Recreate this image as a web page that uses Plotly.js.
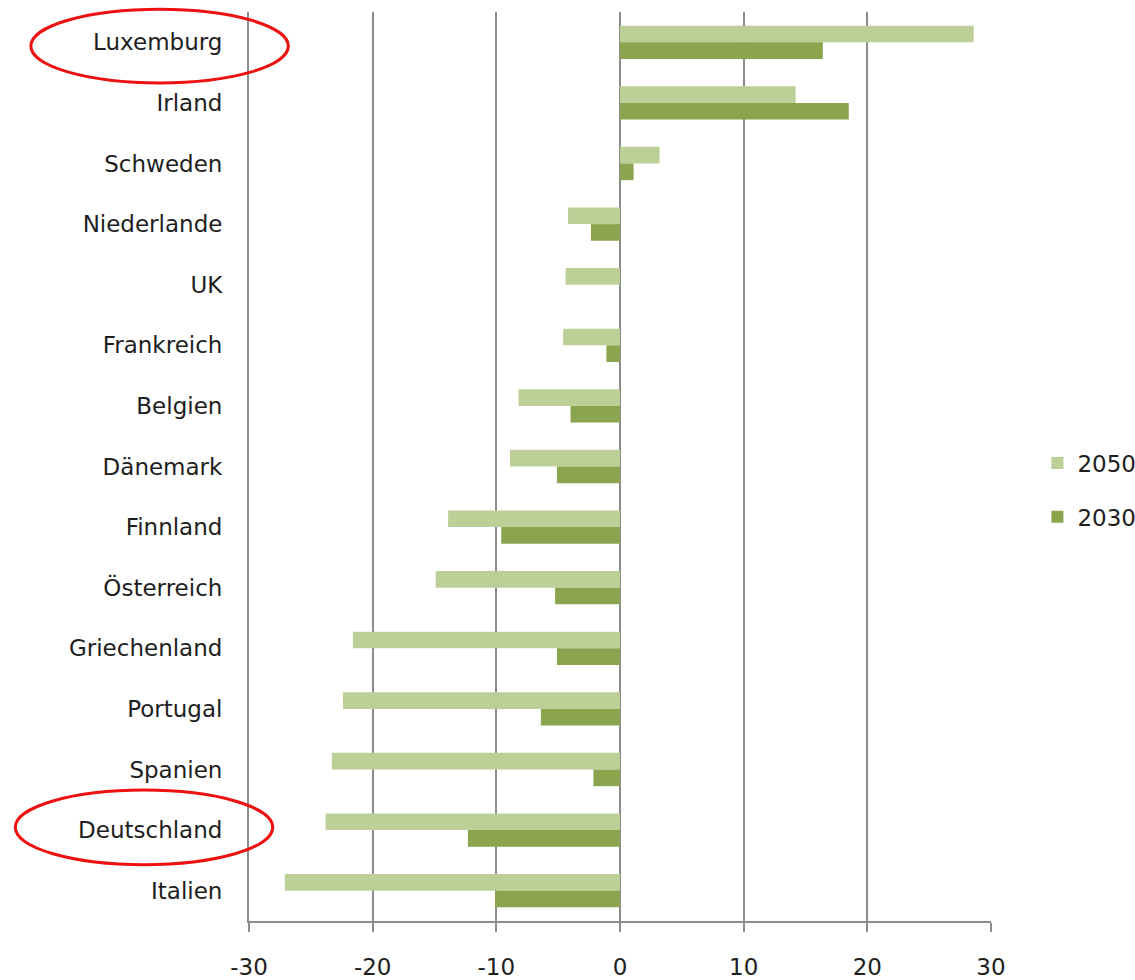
<!DOCTYPE html>
<html>
<head>
<meta charset="utf-8">
<script src="https://cdn.plot.ly/plotly-3.0.1.min.js"></script>
<style>html,body{margin:0;padding:0;background:#fff;}#chart{width:1135px;height:980px;}</style>
</head>
<body>
<div id="chart"></div>
<script>
const countries = ["Luxemburg","Irland","Schweden","Niederlande","UK","Frankreich","Belgien","Dänemark","Finnland","Österreich","Griechenland","Portugal","Spanien","Deutschland","Italien"];
const values2050 = [28.6,14.2,3.2,-4.2,-4.4,-4.6,-8.2,-8.9,-13.9,-14.9,-21.6,-22.4,-23.3,-23.8,-27.1];
const values2030 = [16.4,18.5,1.1,-2.35,0,-1.1,-4.0,-5.1,-9.6,-5.25,-5.1,-6.4,-2.15,-12.3,-10.1];
const xTicks = [-30,-20,-10,0,10,20,30];

const FONT = "DejaVu Sans, sans-serif";
const GRID = "#8c8c8c";
const TXT = "#1e1e1e";

const traces = [
  {type:"bar", orientation:"h", name:"2050", y:countries, x:values2050,
   marker:{color:"#bbcf97"}, legendgroup:"a"},
  {type:"bar", orientation:"h", name:"2030", y:countries, x:values2030,
   marker:{color:"#8aa54e"}, legendgroup:"b"}
];

const layout = {
  width:1135, height:980,
  margin:{l:249, r:144, t:12, b:59},
  paper_bgcolor:"#fff", plot_bgcolor:"#fff",
  font:{family:FONT, size:23, color:TXT},
  barmode:"group", bargap:0.45, bargroupgap:0,
  showlegend:true,
  legend:{xref:"container", yref:"container", x:0.914, y:0.5, xanchor:"left", yanchor:"middle",
          traceorder:"grouped", tracegroupgap:21, font:{family:FONT, size:23, color:TXT},
          bgcolor:"rgba(0,0,0,0)"},
  xaxis:{range:[-30,30], tickvals:xTicks, ticktext:xTicks.map(String), showgrid:true, gridcolor:GRID, gridwidth:2,
         zeroline:false, showline:true, linecolor:GRID, linewidth:2, ticks:"outside", ticklen:9,
         tickcolor:GRID, tickwidth:2, ticklabelstandoff:15, tickfont:{family:FONT, size:23, color:TXT}},
  yaxis:{type:"category", categoryorder:"array", categoryarray:countries, autorange:"reversed",
         showgrid:false, zeroline:false, showline:true, linecolor:GRID, linewidth:2, ticks:"", ticklabelstandoff:20,
         tickfont:{family:FONT, size:23, color:TXT}},
  yaxis2:{overlaying:"y", anchor:"free", position:0.5, side:"left", range:[countries.length-0.5,-0.5],
          tick0:-0.5, dtick:1, showticklabels:false, ticks:"outside", ticklen:10, tickcolor:GRID, tickwidth:2,
          showline:true, linecolor:GRID, linewidth:2, showgrid:false, zeroline:false},
  shapes:[
    {type:"circle", xref:"paper", yref:"paper", x0:-0.294, x1:0.053, y0:0.922, y1:1.003,
     line:{color:"#ee1111", width:3}},
    {type:"circle", xref:"paper", yref:"paper", x0:-0.315, x1:0.032, y0:0.062, y1:0.144,
     line:{color:"#ee1111", width:3}}
  ]
};

Plotly.newPlot("chart", traces, layout, {displayModeBar:false, staticPlot:true});
</script>
</body>
</html>
